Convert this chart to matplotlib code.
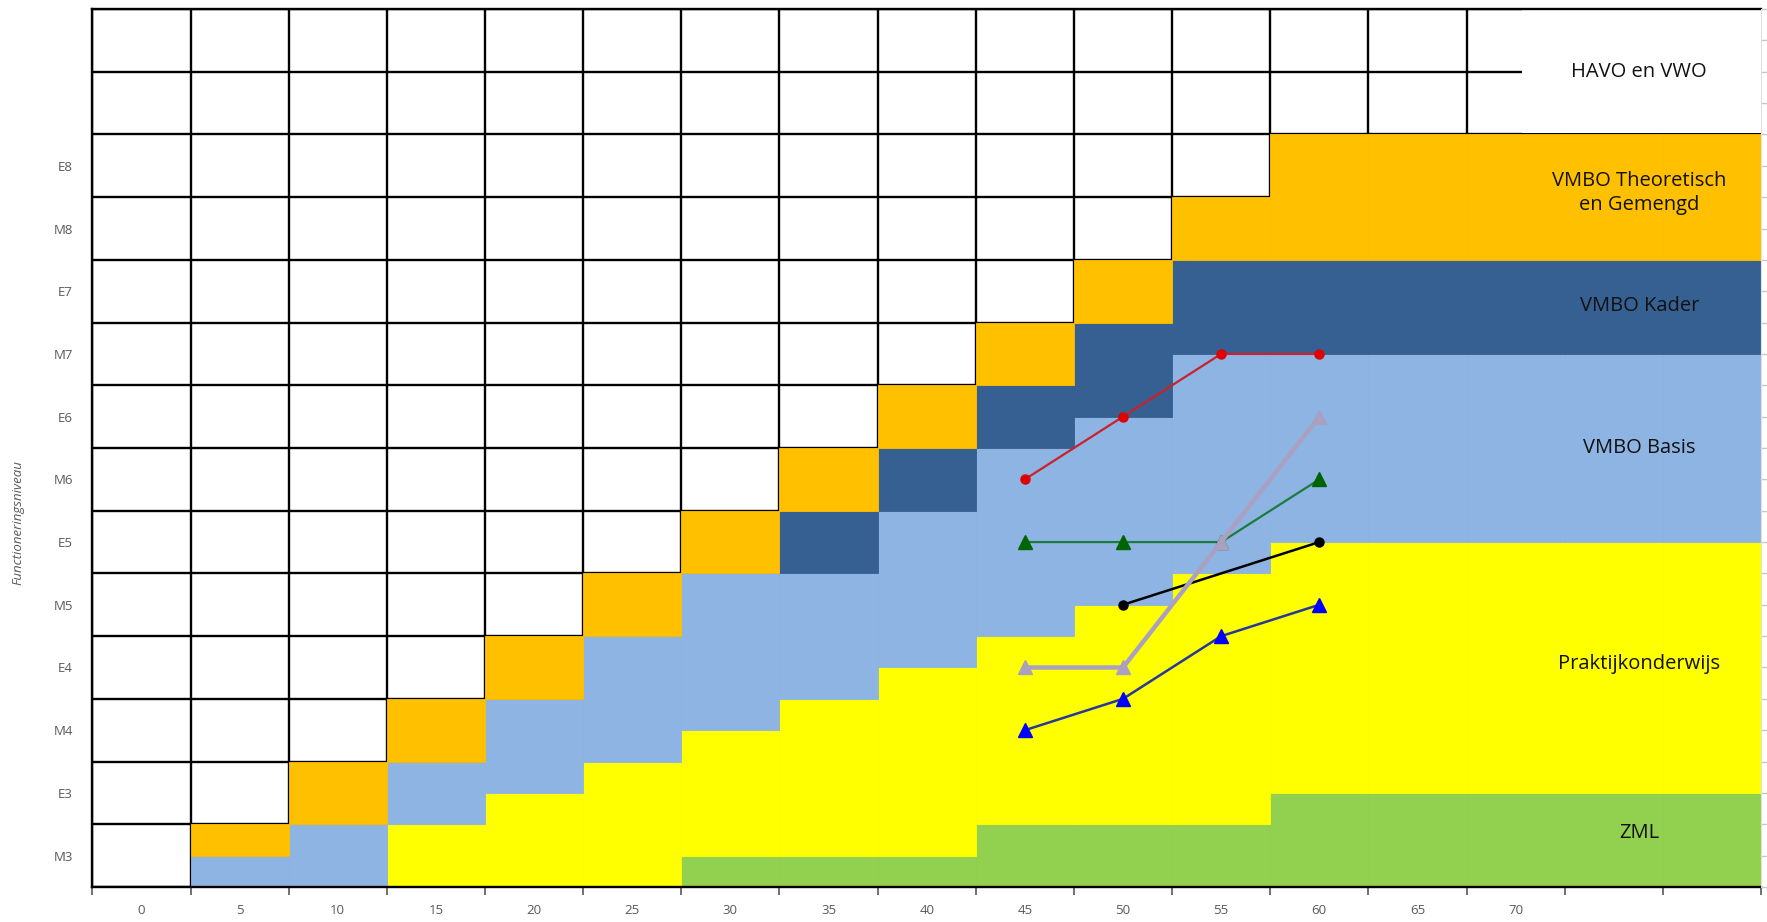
import matplotlib
matplotlib.use("Agg")
import matplotlib.pyplot as plt
import numpy as np

plt.rcParams['font.family'] = ['Open Sans', 'DejaVu Sans']

# ---- data ----
categories = [0, 5, 10, 15, 20, 25, 30, 35, 40, 45, 50, 55, 60, 65, 70, 75, 80]
x_labels = ["0", "5", "10", "15", "20", "25", "30", "35", "40", "45", "50", "55", "60", "65", "70", "", ""]
levels = ["M3", "E3", "M4", "E4", "M5", "E5", "M6", "E6", "M7", "E7", "M8", "E8", "", ""]

zml          = [0, 0, 0, 0, 0, 0, 0.5, 0.5, 0.5, 1, 1, 1, 1.5, 1.5, 1.5, 1.5, 1.5]
praktijk     = [0, 0, 0, 1, 1.5, 2, 2, 2.5, 3, 3, 3.5, 4, 4, 4, 4, 4, 4]
vmbo_basis   = [0, 0.5, 1, 1, 1.5, 2, 2.5, 2, 2.5, 3, 3, 3.5, 3, 3, 3, 3, 3]
vmbo_kader   = [0, 0, 0, 0, 0, 0, 0, 1, 1, 1, 1.5, 1.5, 1.5, 1.5, 1.5, 1.5, 1.5]
vmbo_theor   = [0, 0.5, 1, 1, 1, 1, 1, 1, 1, 1, 1, 1, 2, 2, 2, 2, 2]

band_names = ["ZML", "Praktijkonderwijs", "VMBO Basis", "VMBO Kader", "VMBO Theoretisch\nen Gemengd"]
band_colors = ["#92D050", "#FFFF00", "#8EB4E3", "#376092", "#FFC000"]

# student series (x = age category, y = level position)
red_x, red_y = [45, 50, 55, 60], [6.5, 7.5, 8.5, 8.5]
green_x, green_y = [45, 50, 55, 60], [5.5, 5.5, 5.5, 6.5]
grey_x, grey_y = [45, 50, 55, 60], [3.5, 3.5, 5.5, 7.5]
black_x, black_y = [50, 60], [4.5, 5.5]
blue_x, blue_y = [45, 50, 55, 60], [2.5, 3.0, 4.0, 4.5]

# ---- figure ----
fig = plt.figure(figsize=(17.67, 9.22), dpi=100)
ax = fig.add_axes([0.0523, 0.038, 0.9443, 0.9522])

step = 5
xmin, xmax = categories[0] - step / 2, categories[-1] + step / 2
nrows = len(levels)

# grid lines (behind the coloured bands)
bounds_x = np.arange(xmin, xmax + 0.01, step)
ax.vlines(bounds_x[:-1], 0, nrows, colors="black", linewidth=1.7, zorder=1)
ax.hlines(np.arange(0, nrows + 1), xmin, xmax, colors="black", linewidth=1.7, zorder=1)

# stacked bands
bottom = np.zeros(len(categories))
for vals, col in zip([zml, praktijk, vmbo_basis, vmbo_kader, vmbo_theor], band_colors):
    ax.bar(categories, vals, width=step, bottom=bottom, color=col,
           edgecolor=col, linewidth=0.6, zorder=2)
    bottom = bottom + np.array(vals)

# white label box in the top right (HAVO en VWO)
ax.fill_between([70.35, xmax], 12.03, 14.0, color="white", zorder=2.2, linewidth=0)

# lines
ax.plot(red_x, red_y, color="#C8232C", lw=1.6, marker="o", ms=6.5,
        mfc="#E00000", mec="#E00000", zorder=5)
ax.plot(green_x, green_y, color="#1E7B3C", lw=1.6, marker="^", ms=10,
        mfc="#006400", mec="#006400", zorder=5)
ax.plot(black_x, black_y, color="black", lw=1.8, marker="o", ms=6.5,
        mfc="black", mec="black", zorder=5)
ax.plot(blue_x, blue_y, color="#26389A", lw=1.8, marker="^", ms=10,
        mfc="#0000FF", mec="#0000FF", zorder=5)
ax.plot(grey_x, grey_y, color="#A9A0C2", lw=3.2, marker="^", ms=10,
        mfc="#A9A0C2", mec="#A9A0C2", zorder=6)

# band labels
txt_x = 76.3
fs = 14.5
tc = "#111111"
ax.text(txt_x, 13.0, "HAVO en VWO", ha="center", va="center", fontsize=fs, color=tc, zorder=7)
ax.text(txt_x, 11.07, band_names[4], ha="center", va="center", fontsize=fs, color=tc,
        zorder=7, linespacing=1.3)
ax.text(txt_x, 9.27, band_names[3], ha="center", va="center", fontsize=fs, color=tc, zorder=7)
ax.text(txt_x, 7.0, band_names[2], ha="center", va="center", fontsize=fs, color=tc, zorder=7)
ax.text(txt_x, 3.56, band_names[1], ha="center", va="center", fontsize=fs, color=tc, zorder=7)
ax.text(txt_x, 0.86, band_names[0], ha="center", va="center", fontsize=fs, color=tc, zorder=7)

# axes
ax.set_xlim(xmin, xmax)
ax.set_ylim(0, nrows)
ax.set_xticks(bounds_x)
ax.set_xticklabels([])
ax.set_xticks(categories, minor=True)
ax.set_xticklabels(x_labels, minor=True)
ax.tick_params(axis="x", which="major", length=6, width=1.2, color="#595959", direction="out")
ax.tick_params(axis="x", which="minor", length=0, pad=12, labelsize=9.5, labelcolor="#595959")

ax.set_yticks(np.arange(nrows) + 0.5)
ax.set_yticklabels(levels)
ax.tick_params(axis="y", length=0, pad=14, labelsize=9.5, labelcolor="#595959")
ax.set_ylabel("Functioneringsniveau", fontsize=9.5, color="#595959", style="italic")
ax.yaxis.set_label_coords(-0.041, 0.415)

for side in ["left", "top", "bottom"]:
    ax.spines[side].set_color("black")
    ax.spines[side].set_linewidth(1.7)
    ax.spines[side].set_zorder(4)
ax.spines["right"].set_visible(False)

# faint secondary axis on the right
ax2 = ax.twinx()
ax2.set_ylim(0, nrows)
ax2.set_yticks(np.arange(0, nrows + 0.01, 0.5))
ax2.set_yticklabels([])
ax2.tick_params(axis="y", length=4, width=1, color="#C8C8C8")
for side in ["left", "top", "bottom"]:
    ax2.spines[side].set_visible(False)
ax2.spines["right"].set_color("#E0E0E0")
ax2.spines["right"].set_linewidth(0.8)

fig.savefig("out.png", dpi=100)
